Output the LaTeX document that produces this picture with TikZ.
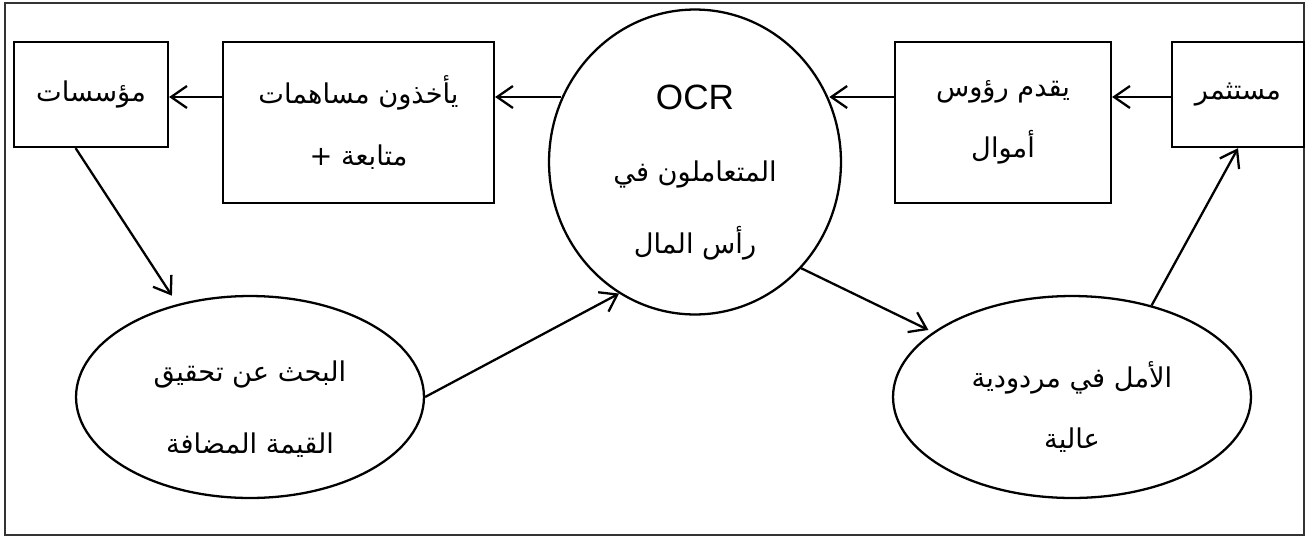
\documentclass[tikz,border=0pt]{standalone}
\usepackage{fontspec}
\setmainfont{Liberation Sans}
\newfontfamily\arabicfont[Script=Arabic]{DejaVu Sans}
\TeXXeTstate=1
\usetikzlibrary{arrows.meta,shapes.geometric}
\newcommand{\artxt}[1]{{\arabicfont\beginR #1\endR}}
\newcommand{\topgap}{\rule{0pt}{26pt}}

\begin{document}
\begin{tikzpicture}[
	x=0.02cm, y=-0.02cm,
	box/.style = {draw, line width=1.3pt, align=center, inner sep=0pt, font=\fontsize{15.5}{35}\selectfont},
	oval/.style = {ellipse, draw, line width=1.3pt, align=center, inner sep=0pt, font=\fontsize{15.5}{41}\selectfont},
	flow/.style = {-{Straight Barb[length=9pt, width=12.5pt]}, line width=1.3pt}
]

\useasboundingbox (0,0) rectangle (1309,538);
\draw[line width=0.7pt, black!80] (5,3) rectangle (1304,535);

\coordinate (row) at (0,97);

\node[box, minimum width=3.08cm, minimum height=2.1cm] (inst) at (91,94.5) {\artxt{مؤسسات}};
\node[box, minimum width=5.42cm, minimum height=3.22cm] (take) at (358.5,122.5) {\artxt{يأخذون مساهمات}\\\artxt{متابعة +}};
\node[oval, minimum width=5.84cm, minimum height=6.1cm] (ocr) at (695,162) {\topgap{\fontsize{20}{41}\selectfont OCR}\\\artxt{المتعاملون في}\\\artxt{رأس المال}};
\node[box, minimum width=4.32cm, minimum height=3.22cm] (give) at (1003,122.5) {\artxt{يقدم رؤوس}\\\artxt{أموال}};
\node[box, minimum width=2.64cm, minimum height=2.1cm] (investor) at (1238,94.5) {\artxt{مستثمر}};
\node[oval, minimum width=6.96cm, minimum height=4.04cm] (seek) at (250,397) {\topgap\artxt{البحث عن تحقيق}\\\artxt{القيمة المضافة}};
\node[oval, minimum width=7.16cm, minimum height=4.04cm, font=\fontsize{15.5}{35}\selectfont] (hope) at (1072,397) {\topgap\artxt{الأمل في مردودية}\\\artxt{عالية}};

\draw[flow] (investor.west |- row) -- (give.east |- row);
\draw[flow] (give.west |- row) -- (ocr.25 |- row);
\draw[flow] (ocr.155 |- row) -- (take.east |- row);
\draw[flow] (take.west |- row) -- (inst.east |- row);
\draw[flow, shorten >=0.2cm] (inst.254) -- (seek.128);
\draw[flow] (seek.east) -- (ocr.240);
\draw[flow, shorten >=0.1cm] (ocr.315) -- (hope.155);
\draw[flow] (hope.49) -- (investor.south);

\end{tikzpicture}
\end{document}
